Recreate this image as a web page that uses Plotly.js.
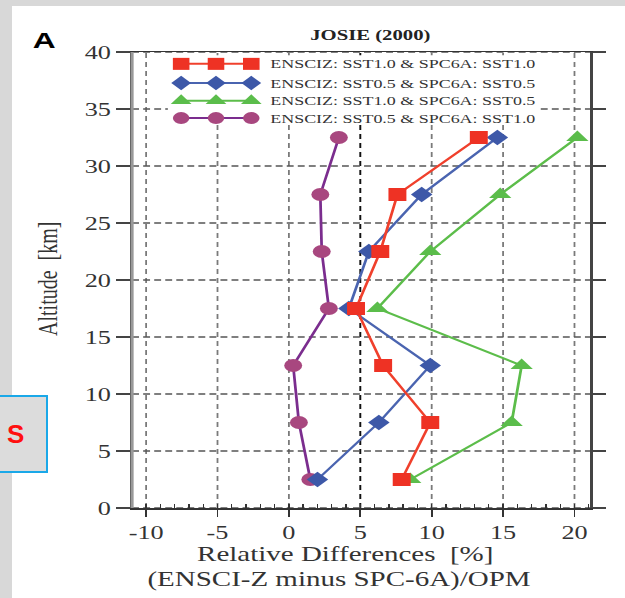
<!DOCTYPE html>
<html>
<head>
<meta charset="utf-8">
<script src="https://cdn.plot.ly/plotly-3.0.1.min.js"></script>
<style>
  html, body { margin:0; padding:0; width:625px; height:598px; overflow:hidden; background:#d8d8d8; }
  #chart { position:absolute; left:12px; top:6px; width:444px; height:592px; transform:scaleX(1.3806); transform-origin:0 0; background:#fff; }
  #sbox { position:absolute; left:-4px; top:395px; width:48px; height:74px; border:2px solid #1aa8e8; background:#dcdcdc;
          font-family:'Liberation Sans', Arial, sans-serif; font-weight:bold; font-size:26px; color:#ff1010;
          line-height:74px; text-indent:9px; z-index:5; }
</style>
</head>
<body>
<div id="chart"></div>
<div id="sbox">S</div>
<script>
// ---- data ----
const altitudes = [32.5, 27.5, 22.5, 17.5, 12.5, 7.5, 2.5];
const redSST10_SST10 = [13.3, 7.6, 6.4, 4.7, 6.6, 9.9, 7.9];
const blueSST05_SST05 = [14.6, 9.3, 5.6, 4.2, 9.9, 6.3, 2.0];
const greenSST10_SST05 = [20.2, 14.8, 9.9, 6.2, 16.3, 15.6, 8.5];
const purpleSST05_SST10 = [3.5, 2.2, 2.3, 2.8, 0.3, 0.7, 1.5];

const seriesNames = [
  'ENSCIZ: SST1.0 & SPC6A: SST1.0',
  'ENSCIZ: SST0.5 & SPC6A: SST0.5',
  'ENSCIZ: SST1.0 & SPC6A: SST0.5',
  'ENSCIZ: SST0.5 & SPC6A: SST1.0'
];
const xTickVals = [-10, -5, 0, 5, 10, 15, 20];
const xTickText = ['-10', '-5', '0', '5', '10', '15', '20'];
const yTickVals = [0, 5, 10, 15, 20, 25, 30, 35, 40];
const yTickText = ['0', '5', '10', '15', '20', '25', '30', '35', '40'];
const darkGridX = 5;

const chartTitle = 'JOSIE (2000)';
const panelLabel = 'A';
const yTitle = 'Altitude\u00a0 [km]';
const xTitle1 = 'Relative Differences\u00a0 [%]';
const xTitle2 = '(ENSCI-Z minus SPC-6A)/OPM';

// ---- styles ----
const styles = [
  {line:'#f0402c', marker:'#ee3224', symbol:'square', size:13},
  {line:'#4a64b0', marker:'#3d58a8', symbol:'diamond', size:12},
  {line:'#5cbd4a', marker:'#5bbd4b', symbol:'triangle-up', size:14},
  {line:'#7b2d8e', marker:'#a8477f', symbol:'circle', size:13}
];
const seriesValues = [redSST10_SST10, blueSST05_SST05, greenSST10_SST05, purpleSST05_SST10];
const drawOrder = [3, 2, 1, 0];

const serif = 'Liberation Serif';
const traces = [];
drawOrder.forEach(i => {
  traces.push({
    type:'scatter', mode:'lines+markers',
    x: seriesValues[i], y: altitudes, name: seriesNames[i],
    line:{color:styles[i].line, width:2},
    marker:{color:styles[i].marker, symbol:styles[i].symbol, size:styles[i].size},
    cliponaxis:false, hoverinfo:'skip'
  });
});

// custom legend (samples drawn on a hidden overlay axis with 0..1 range)
const legSampleX = [0.107, 0.183, 0.260];
const legRowY = [0.974, 0.932, 0.893, 0.855];
const legTextX = 0.294;
const annotations = [];
seriesNames.forEach((nm, i) => {
  traces.push({
    type:'scatter', mode:'lines+markers', xaxis:'x2', yaxis:'y2',
    x: legSampleX, y: legSampleX.map(() => legRowY[i]),
    line:{color:styles[i].line, width:2},
    marker:{color:styles[i].marker, symbol:styles[i].symbol, size:styles[i].size - 1},
    showlegend:false, hoverinfo:'skip', cliponaxis:false
  });
  annotations.push({
    xref:'paper', yref:'paper', x:legTextX, y:legRowY[i], xanchor:'left', yanchor:'middle',
    text:nm, showarrow:false, font:{family:serif, size:13, color:'#333'}
  });
});

annotations.push(
  {xref:'paper', yref:'paper', x:0.521, y:1.037, xanchor:'center', yanchor:'middle', showarrow:false,
   text:'<b>' + chartTitle + '</b>', font:{family:serif, size:15, color:'#222'}},
  {xref:'paper', yref:'paper', x:-0.19, y:1.026, xanchor:'center', yanchor:'middle', showarrow:false,
   text:'<b>' + panelLabel + '</b>', font:{family:'Liberation Sans', size:23, color:'#000'}},
  {xref:'paper', yref:'paper', x:-0.184, y:0.502, xanchor:'center', yanchor:'middle', showarrow:false,
   textangle:-90, text:yTitle, font:{family:serif, size:20, color:'#333'}},
  {xref:'paper', yref:'paper', x:0.465, y:-0.101, xanchor:'center', yanchor:'middle', showarrow:false,
   text:xTitle1, font:{family:serif, size:21, color:'#333'}},
  {xref:'paper', yref:'paper', x:0.4515, y:-0.156, xanchor:'center', yanchor:'middle', showarrow:false,
   text:xTitle2, font:{family:serif, size:21, color:'#333'}}
);

// dashed grid drawn as shapes below the traces, then the legend background over it
const shapes = [];
xTickVals.forEach(v => {
  shapes.push({type:'line', layer:'below', xref:'x', yref:'y domain', x0:v, x1:v, y0:0, y1:1,
    line:{color: v === darkGridX ? '#111' : '#7a7a7a', width: v === darkGridX ? 1.4 : 1.3, dash:'5px,4px'}});
});
yTickVals.forEach(v => {
  shapes.push({type:'line', layer:'below', xref:'x domain', yref:'y', x0:0, x1:1, y0:v, y1:v,
    line:{color:'#555', width:1.6, dash:'5px,3px'}});
});
shapes.push(
  {type:'rect', layer:'below', xref:'x domain', yref:'y domain', x0:0.078, x1:0.884, y0:0.84, y1:0.993,
   fillcolor:'#fff', line:{width:0}},
  {type:'line', layer:'above', xref:'x domain', yref:'y domain', x0:0, x1:0, y0:0, y1:1,
   line:{color:'#999', width:2.2}}
);

const layout = {
  width:444, height:592,
  margin:{l:87, r:25, t:46, b:90, pad:0},
  paper_bgcolor:'#fff', plot_bgcolor:'#fff',
  showlegend:false,
  xaxis:{
    range:[-10.98, 21.12], tickmode:'array', tickvals:xTickVals, ticktext:xTickText,
    tickfont:{family:serif, size:19, color:'#333'},
    ticks:'outside', ticklen:7, tickwidth:1.2, tickcolor:'#333',
    showline:true, linecolor:'#333', linewidth:1.5, mirror:true,
    showgrid:false, zeroline:false,
    minor:{tickmode:'linear', tick0:0, dtick:1, ticks:'inside', ticklen:4, tickwidth:1, tickcolor:'#333', showgrid:false}
  },
  yaxis:{
    range:[0, 40], tickmode:'array', tickvals:yTickVals, ticktext:yTickText,
    tickfont:{family:serif, size:19, color:'#333'},
    ticks:'outside', ticklen:10, tickwidth:1.2, tickcolor:'#444',
    showline:true, linecolor:'#444', linewidth:1.5, mirror:'ticks',
    showgrid:false, zeroline:false
  },
  xaxis2:{overlaying:'x', range:[0,1], visible:false, fixedrange:true},
  yaxis2:{overlaying:'y', range:[0,1], visible:false, fixedrange:true},
  shapes:shapes,
  annotations:annotations
};

Plotly.newPlot('chart', traces, layout, {staticPlot:true, displayModeBar:false});
</script>
</body>
</html>
